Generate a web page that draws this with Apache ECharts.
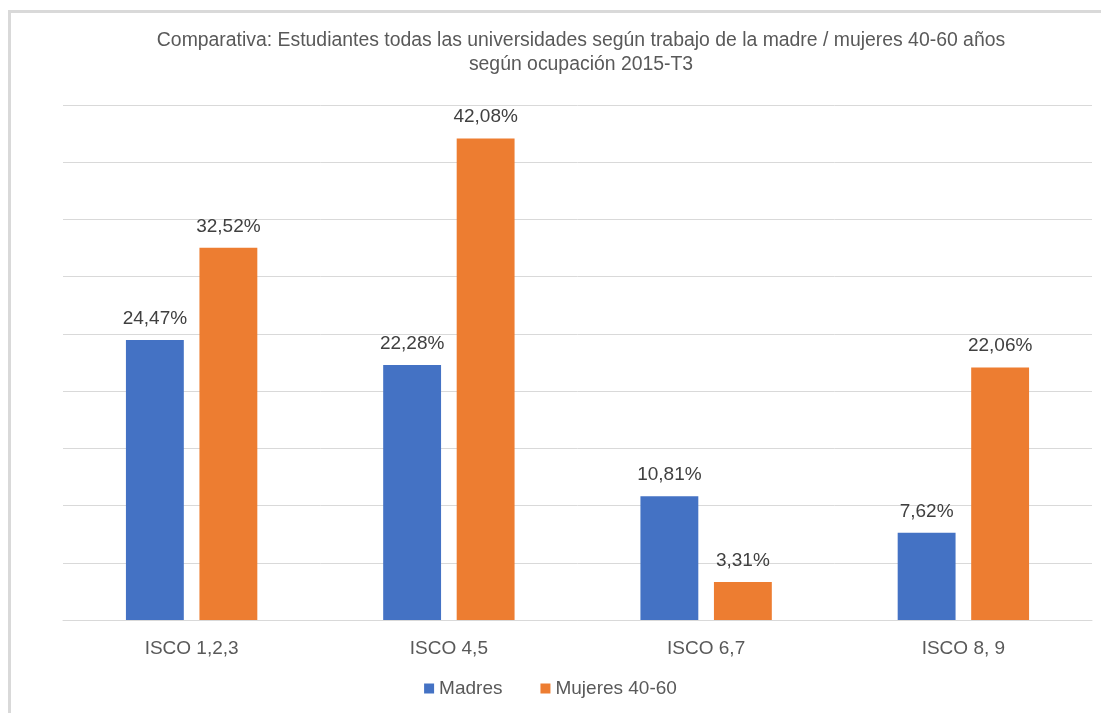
<!DOCTYPE html>
<html>
<head>
<meta charset="utf-8">
<script src="https://cdn.jsdelivr.net/npm/echarts@6/dist/echarts.min.js"></script>
<style>
html,body{margin:0;padding:0;background:#fff;}
#chart{width:1101px;height:713px;}
</style>
</head>
<body>
<div id="chart"></div>
<script>
const categories = ['ISCO 1,2,3', 'ISCO 4,5', 'ISCO 6,7', 'ISCO 8, 9'];
const madres = [24.47, 22.28, 10.81, 7.62];
const mujeres = [32.52, 42.08, 3.31, 22.06];
const seriesNames = ['Madres', 'Mujeres 40-60'];
const titleText = 'Comparativa: Estudiantes todas las universidades según trabajo de la madre / mujeres 40-60 años\nsegún ocupación 2015-T3';

const FONT = '"Liberation Sans", sans-serif';
const chart = echarts.init(document.getElementById('chart'), null, {renderer: 'canvas'});
const fmt = p => p.value.toFixed(2).replace('.', ',') + '%';
const option = {
  backgroundColor: '#fff',
  animation: false,
  textStyle: {fontFamily: FONT},
  title: {
    text: titleText,
    left: 576, top: 24, textAlign: 'center',
    textStyle: {fontFamily: FONT, fontSize: 19.4, fontWeight: 'normal', color: '#595959', lineHeight: 24}
  },
  legend: {
    data: seriesNames,
    bottom: 10, left: 'center',
    itemWidth: 10, itemHeight: 10, itemGap: 38,
    icon: 'rect',
    textStyle: {fontFamily: FONT, fontSize: 19, color: '#595959'}
  },
  grid: {left: 63, right: 9, top: 105, bottom: 93, containLabel: false},
  xAxis: {
    type: 'category', data: categories,
    axisLine: {lineStyle: {color: '#d9d9d9', width: 1}},
    axisTick: {show: false},
    axisLabel: {fontFamily: FONT, fontSize: 19, color: '#595959', margin: 19}
  },
  yAxis: {
    type: 'value', min: 0, max: 45, interval: 5,
    axisLabel: {show: false},
    axisLine: {show: false}, axisTick: {show: false},
    splitLine: {lineStyle: {color: '#d9d9d9', width: 1}}
  },
  series: [
    {name: seriesNames[0], type: 'bar', data: madres, barWidth: '22.5%', barGap: '27%',
     itemStyle: {color: '#4472C4'},
     label: {show: true, position: 'top', distance: 12, formatter: fmt, fontFamily: FONT, fontSize: 19, color: '#404040'}},
    {name: seriesNames[1], type: 'bar', data: mujeres, barWidth: '22.5%', barGap: '27%',
     itemStyle: {color: '#ED7D31'},
     label: {show: true, position: 'top', distance: 12, formatter: fmt, fontFamily: FONT, fontSize: 19, color: '#404040'}}
  ],
  graphic: [
    {type: 'line', shape: {x1: 9.5, y1: 10, x2: 9.5, y2: 713}, style: {stroke: '#d9d9d9', lineWidth: 3}, silent: true},
    {type: 'line', shape: {x1: 8, y1: 11.5, x2: 1101, y2: 11.5}, style: {stroke: '#d9d9d9', lineWidth: 3}, silent: true}
  ]
};
chart.setOption(option);
</script>
</body>
</html>
